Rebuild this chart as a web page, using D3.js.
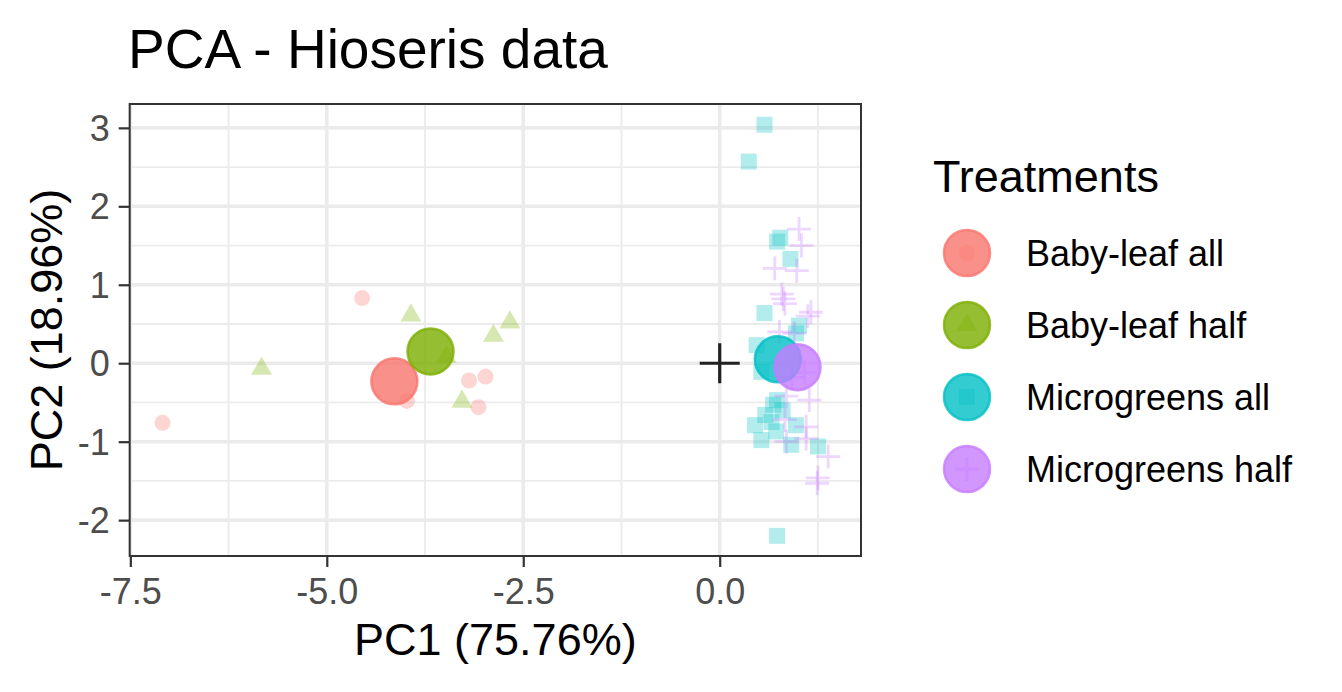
<!DOCTYPE html>
<html lang="en">
<head>
    <meta charset="utf-8">
    <title>PCA - Hioseris data</title>
    <style>
        body {
            margin: 0;
            background: #fff;
            font-family: "Liberation Sans", Arial, sans-serif;
        }
    </style>
</head>
<body>
<svg class="chart"></svg>
<script src="https://d3js.org/d3.v7.min.js"></script>
<script>
    const chartWidth = 1342;
    const chartHeight = 692;

    const treatments = ["Baby-leaf all", "Baby-leaf half", "Microgreens all", "Microgreens half"];
    const colors = ["#F8766D", "#7CAE00", "#00BFC4", "#C77CFF"];
    const shapes = ["circle", "triangle", "square", "cross"];

    // PC1 / PC2 scores
    const babyAllX = [-7.09, -4.55, -3.98, -3.19, -2.98, -3.07];
    const babyAllY = [-0.76, 0.83, -0.48, -0.22, -0.17, -0.56];
    const babyHalfX = [-5.83, -3.93, -3.48, -2.88, -2.67, -3.28];
    const babyHalfY = [-0.07, 0.61, 0.08, 0.35, 0.52, -0.49];
    const microAllX = [0.57, 0.37, 0.77, 0.73, 0.90, 0.57, 1.01, 0.97, 0.47, 0.53, 0.73,
        0.68, 0.80, 0.58, 0.66, 0.45, 0.97, 0.72, 0.53, 0.91, 1.25, 0.73];
    const microAllY = [3.04, 2.57, 1.60, 1.55, 1.33, 0.64, 0.48, 0.38, 0.23, -0.11, -0.47,
        -0.53, -0.60, -0.66, -0.75, -0.79, -0.79, -0.87, -0.98, -1.04, -1.06, -2.20];
    const microHalfX = [1.01, 1.04, 0.70, 0.98, 0.79, 0.81, 0.83, 1.16, 1.12, 0.76, 0.95,
        0.92, 1.08, 0.85, 1.14, 0.83, 1.10, 1.10, 0.85, 1.38, 1.25, 1.24];
    const microHalfY = [1.71, 1.50, 1.21, 1.18, 0.88, 0.82, 0.76, 0.65, 0.60, 0.40, 0.38,
        -0.18, -0.12, -0.42, -0.47, -0.72, -0.81, -0.96, -1.00, -1.19, -1.46, -1.53];

    // group centroids
    const centroidX = [-4.14, -3.68, 0.74, 0.99];
    const centroidY = [-0.23, 0.15, 0.05, -0.05];

    const xTicks = [-7.5, -5.0, -2.5, 0.0];
    const xMinor = [-6.25, -3.75, -1.25, 1.25];
    const yTicks = [-2, -1, 0, 1, 2, 3];
    const yMinor = [-1.5, -0.5, 0.5, 1.5, 2.5];

    const groupsX = [babyAllX, babyHalfX, microAllX, microHalfX];
    const groupsY = [babyAllY, babyHalfY, microAllY, microHalfY];
    const points = [];
    groupsX.forEach(function(xs, g) {
        xs.forEach(function(v, i) {
            points.push({x: v, y: groupsY[g][i], g: g});
        });
    });
    const centroids = centroidX.map(function(v, i) {
        return {x: v, y: centroidY[i], g: i};
    });

    const margin = {top: 104, left: 129.7, right: 481, bottom: 136};
    const width = chartWidth - margin.left - margin.right;
    const height = chartHeight - margin.top - margin.bottom;

    const svg = d3.select("svg").attr("width", chartWidth).attr("height", chartHeight);
    const g = svg.append("g").attr("transform", "translate(" + margin.left + "," + margin.top + ")");

    const x = d3.scaleLinear().domain([-7.508, 1.798]).range([0, width]);
    const y = d3.scaleLinear().domain([-2.457, 3.304]).range([height, 0]);

    //grid
    g.selectAll(".minor-x").data(xMinor).enter().append("line")
        .attr("x1", x).attr("x2", x).attr("y1", 0).attr("y2", height)
        .attr("stroke", "#EBEBEB").attr("stroke-width", 1.8);
    g.selectAll(".minor-y").data(yMinor).enter().append("line")
        .attr("y1", y).attr("y2", y).attr("x1", 0).attr("x2", width)
        .attr("stroke", "#EBEBEB").attr("stroke-width", 1.8);
    g.selectAll(".major-x").data(xTicks).enter().append("line")
        .attr("x1", x).attr("x2", x).attr("y1", 0).attr("y2", height)
        .attr("stroke", "#EBEBEB").attr("stroke-width", 3.6);
    g.selectAll(".major-y").data(yTicks).enter().append("line")
        .attr("y1", y).attr("y2", y).attr("x1", 0).attr("x2", width)
        .attr("stroke", "#EBEBEB").attr("stroke-width", 3.6);

    // marks
    function crossPath(cx, cy, r) {
        return "M" + (cx - r) + "," + cy + "H" + (cx + r) + "M" + cx + "," + (cy - r) + "V" + (cy + r);
    }
    const triangle = d3.symbol().type(d3.symbolTriangle).size(190);

    function drawShape(sel, shape, cx, cy, color, opacity) {
        if (shape === "circle") {
            sel.append("circle").attr("cx", cx).attr("cy", cy).attr("r", 8)
                .attr("fill", color).attr("fill-opacity", opacity);
        } else if (shape === "triangle") {
            sel.append("path").attr("d", triangle)
                .attr("transform", "translate(" + cx + "," + cy + ")")
                .attr("fill", color).attr("fill-opacity", opacity);
        } else if (shape === "square") {
            sel.append("rect").attr("x", cx - 8).attr("y", cy - 8)
                .attr("width", 16).attr("height", 16)
                .attr("fill", color).attr("fill-opacity", opacity);
        } else {
            sel.append("path").attr("d", crossPath(cx, cy, 12))
                .attr("stroke", color).attr("stroke-opacity", opacity)
                .attr("stroke-width", 2.8).attr("fill", "none");
        }
    }

    const pts = g.append("g").attr("class", "points");
    points.forEach(function(d) {
        drawShape(pts, shapes[d.g], x(d.x), y(d.y), colors[d.g], 0.3);
    });

    g.selectAll(".centroid").data(centroids).enter().append("circle")
        .attr("class", "centroid")
        .attr("cx", function(d){ return x(d.x); })
        .attr("cy", function(d){ return y(d.y); })
        .attr("r", 23)
        .attr("fill", function(d){ return colors[d.g]; })
        .attr("fill-opacity", 0.8)
        .attr("stroke", function(d){ return colors[d.g]; })
        .attr("stroke-opacity", 0.8)
        .attr("stroke-width", 2.5);

    // origin marker
    g.append("path").attr("d", crossPath(x(0), y(0), 20))
        .attr("stroke", "#222").attr("stroke-width", 3.2).attr("fill", "none");

    // panel border
    g.append("rect").attr("width", width).attr("height", height)
        .attr("fill", "none").attr("stroke", "#333").attr("stroke-width", 2);

    //axes
    const xAxis = g.append("g")
        .attr("transform", "translate(0," + height + ")")
        .call(d3.axisBottom(x).tickValues(xTicks).tickSize(11).tickPadding(9)
            .tickFormat(function(d){ return d.toFixed(1); }));
    const yAxis = g.append("g")
        .call(d3.axisLeft(y).tickValues(yTicks).tickSize(11).tickPadding(9)
            .tickFormat(function(d){ return String(d); }));
    [xAxis, yAxis].forEach(function(a) {
        a.select(".domain").remove();
        a.selectAll(".tick line").attr("stroke", "#333").attr("stroke-width", 2.2);
        a.selectAll(".tick text").attr("fill", "#4D4D4D")
            .style("font-family", "'Liberation Sans', Arial, sans-serif")
            .style("font-size", "36px");
    });
    xAxis.selectAll(".tick text").attr("dy", "0.77em");
    yAxis.selectAll(".tick text").attr("dy", "0.35em");

    // titles
    svg.append("text").attr("x", 128).attr("y", 68)
        .style("font-size", "55px").attr("fill", "#000")
        .text("PCA - Hioseris data");
    svg.append("text").attr("x", margin.left + width / 2).attr("y", 655)
        .attr("text-anchor", "middle").style("font-size", "45px")
        .text("PC1 (75.76%)");
    svg.append("text")
        .attr("transform", "translate(62," + (margin.top + height / 2) + ") rotate(-90)")
        .attr("text-anchor", "middle").style("font-size", "45px")
        .text("PC2 (18.96%)");

    // legend
    const legend = svg.append("g").attr("transform", "translate(933,0)");
    legend.append("text").attr("x", 0).attr("y", 192)
        .style("font-size", "45px").text("Treatments");
    treatments.forEach(function(name, i) {
        const cy = 253 + i * 72;
        legend.append("circle").attr("cx", 34).attr("cy", cy).attr("r", 23)
            .attr("fill", colors[i]).attr("fill-opacity", 0.8)
            .attr("stroke", colors[i]).attr("stroke-opacity", 0.8).attr("stroke-width", 2.5);
        drawShape(legend, shapes[i], 34, cy, colors[i], 0.3);
        legend.append("text").attr("x", 93).attr("y", cy + 13)
            .style("font-size", "36px").text(name);
    });
</script>
</body>
</html>
